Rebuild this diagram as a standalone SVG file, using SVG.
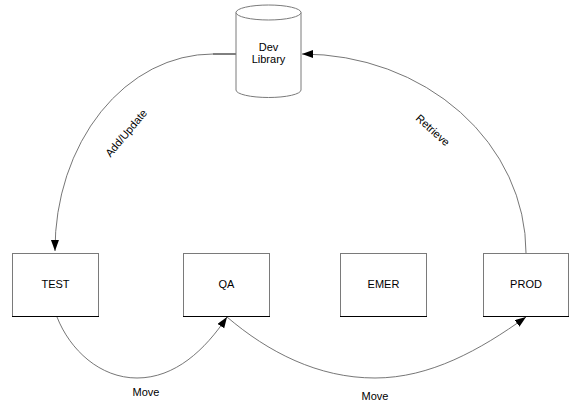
<svg xmlns="http://www.w3.org/2000/svg" width="576" height="409" viewBox="0 0 576 409">
<style>
.box{fill:#fff;stroke:#7a7a7a;stroke-width:1}
.base{stroke:#000;stroke-width:1.2}
.lbl{font-family:"Liberation Sans",Arial,sans-serif;font-size:11px;fill:#000;text-anchor:middle}
.conn{fill:none;stroke:#666;stroke-width:0.9}
</style>
<defs>
<marker id="arr" markerUnits="userSpaceOnUse" markerWidth="12" markerHeight="10" refX="11" refY="4" orient="auto">
<path d="M0,0 L11,4 L0,8 Z" fill="#000"/>
</marker>
</defs>
<rect width="576" height="409" fill="#fff"/>
<g id="connectors">
<line x1="236" y1="54" x2="213" y2="54" stroke="#000" stroke-width="1"/>
<path class="conn" d="M213,54 A158,196 0 0 0 55,251" marker-end="url(#arr)"/>
<path class="conn" d="M526,253 A224,199 0 0 0 302,54" marker-end="url(#arr)"/>
<path class="conn" d="M57,317 C70,350 100,378 137,378 C175,378 205,350 227,317" marker-end="url(#arr)"/>
<path class="conn" d="M227,317 C268,352 318,378 375,378 C430,378 480,350 526,317" marker-end="url(#arr)"/>
<text class="lbl" transform="translate(126,133) rotate(-50)" y="4">Add/Update</text>
<text class="lbl" transform="translate(433,130) rotate(42)" y="4">Retrieve</text>
<text class="lbl" x="146" y="396">Move</text>
<text class="lbl" x="375" y="400">Move</text>
</g>
<g id="dev-library">
<path class="box" d="M236,12.5 L236,90 A32.5,7.5 0 0 0 301,90 L301,12.5"/>
<ellipse class="box" cx="268.5" cy="12.5" rx="32.5" ry="7.5"/>
<text class="lbl" x="268.5" y="51">Dev</text>
<text class="lbl" x="268.5" y="63">Library</text>
</g>
<g id="test">
<rect class="box" x="12.5" y="253.5" width="86" height="63"/>
<line class="base" x1="12" y1="316.5" x2="99" y2="316.5"/>
<text class="lbl" x="55.5" y="288">TEST</text>
</g>
<g id="qa">
<rect class="box" x="183.5" y="253.5" width="86" height="63"/>
<line class="base" x1="183" y1="316.5" x2="270" y2="316.5"/>
<text class="lbl" x="226.5" y="288">QA</text>
</g>
<g id="emer">
<rect class="box" x="340.5" y="253.5" width="86" height="63"/>
<line class="base" x1="340" y1="316.5" x2="427" y2="316.5"/>
<text class="lbl" x="383.5" y="288">EMER</text>
</g>
<g id="prod">
<rect class="box" x="483.5" y="253.5" width="85" height="63"/>
<line class="base" x1="483" y1="316.5" x2="569" y2="316.5"/>
<text class="lbl" x="526" y="288">PROD</text>
</g>
</svg>
